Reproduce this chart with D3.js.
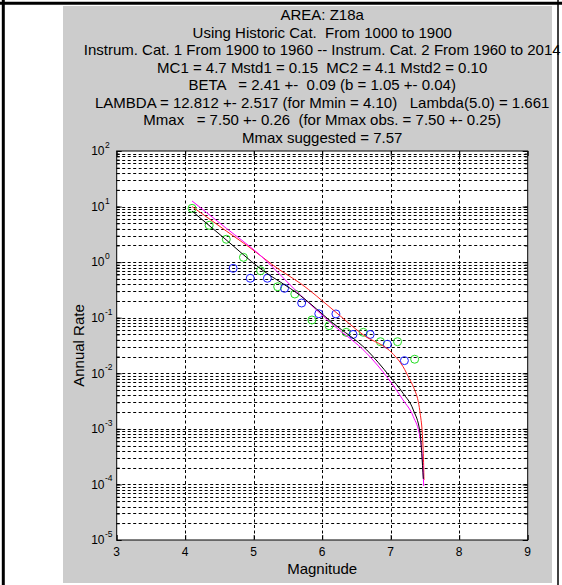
<!DOCTYPE html>
<html><head><meta charset="utf-8">
<script src="https://cdn.jsdelivr.net/npm/d3@7"></script>
<style>
body{margin:0;background:#fff;}
svg{display:block;font-family:Arial,"Liberation Sans",sans-serif;}
text{white-space:pre;}
</style>
</head><body>
<svg id="c" width="562" height="585"></svg>
<script>
// ---- data ----
const titleLines = [
  "AREA: Z18a",
  "Using Historic Cat.  From 1000 to 1900",
  "Instrum. Cat. 1 From 1900 to 1960 -- Instrum. Cat. 2 From 1960 to 2014",
  "MC1 = 4.7 Mstd1 = 0.15  MC2 = 4.1 Mstd2 = 0.10",
  "BETA   = 2.41 +-  0.09 (b = 1.05 +- 0.04)",
  "LAMBDA = 12.812 +- 2.517 (for Mmin = 4.10)   Lambda(5.0) = 1.661",
  "Mmax   = 7.50 +- 0.26  (for Mmax obs. = 7.50 +- 0.25)",
  "Mmax suggested = 7.57"
];
const xLabel = "Magnitude";
const yLabel = "Annual Rate";
const xTicks = [3, 4, 5, 6, 7, 8, 9];
const yExponents = [-5, -4, -3, -2, -1, 0, 1, 2];

const greenM    = [4.10, 4.35, 4.60, 4.85, 5.10, 5.35, 5.60, 5.85, 6.10, 6.35, 6.60, 6.85, 7.10, 7.35];
const greenRate = [9.3, 4.6, 2.58, 1.22, 0.70, 0.361, 0.267, 0.091, 0.072, 0.0546, 0.0546, 0.037, 0.037, 0.0179];

const blueM    = [4.70, 4.95, 5.20, 5.45, 5.70, 5.95, 6.20, 6.45, 6.70, 6.95, 7.20];
const blueRate = [0.774, 0.513, 0.513, 0.338, 0.184, 0.118, 0.117, 0.050, 0.050, 0.0333, 0.0169];

const blackM    = [4.10, 4.58, 5.10, 5.68, 6.16, 6.65, 6.99, 7.18, 7.33, 7.43, 7.453, 7.476];
const blackRate = [8.3, 2.63, 0.76, 0.251, 0.0794, 0.0263, 0.0087, 0.00437, 0.00219, 0.00083, 0.000363, 0.000126];

const magentaM    = [4.10, 4.60, 5.09, 5.68, 6.16, 6.65, 6.96, 7.18, 7.33, 7.43, 7.467, 7.482];
const magentaRate = [12.6, 4.07, 1.35, 0.257, 0.0741, 0.0229, 0.00813, 0.00331, 0.00166, 0.000676, 0.00024, 0.0000933];

const redM    = [4.10, 4.60, 4.90, 5.38, 5.68, 6.16, 6.60, 7.04, 7.18, 7.28, 7.33, 7.43, 7.467, 7.476, 7.486];
const redRate = [10.0, 3.63, 2.0, 0.724, 0.417, 0.138, 0.049, 0.0219, 0.0132, 0.00759, 0.00575, 0.0019, 0.00063, 0.00036, 0.00012];

// ---- drawing ----
const svg = d3.select("#c");
const L = 116.7, R = 527.7, T = 151, B = 540;

// outer frame
svg.append("rect").attr("x", 0).attr("y", 0).attr("width", 562).attr("height", 585).attr("fill", "#fff");
svg.append("rect").attr("x", 63).attr("y", 6).attr("width", 489).attr("height", 577).attr("fill", "#cccccc");
svg.append("line").attr("x1", 0).attr("x2", 562).attr("y1", 3.2).attr("y2", 3.2).attr("stroke", "#000").attr("stroke-width", 3);
svg.append("line").attr("x1", 3.3).attr("x2", 3.3).attr("y1", 0).attr("y2", 585).attr("stroke", "#000").attr("stroke-width", 3);
svg.append("line").attr("x1", 558).attr("x2", 558).attr("y1", 0).attr("y2", 585).attr("stroke", "#000").attr("stroke-width", 1.5);

const x = d3.scaleLinear().domain([3, 9]).range([L, R]);
const y = d3.scaleLog().domain([1e-5, 1e2]).range([B, T]);

svg.append("rect").attr("x", L).attr("y", T).attr("width", R - L).attr("height", B - T).attr("fill", "#fff");

// grid
const g = svg.append("g");
const minorVals = [];
yExponents.slice(0, -1).forEach(e => { for (let k = 1; k <= 9; k++) minorVals.push(k * Math.pow(10, e)); });
g.selectAll("line.hg").data(minorVals.filter(v => v > 1e-5)).enter().append("line")
  .attr("x1", L).attr("x2", R).attr("y1", d => Math.round(y(d)) + 0.5).attr("y2", d => Math.round(y(d)) + 0.5)
  .attr("stroke", "#000").attr("stroke-width", 1).attr("stroke-dasharray", "3,2.5");
g.selectAll("line.vg").data(xTicks.slice(1, -1)).enter().append("line")
  .attr("y1", T).attr("y2", B).attr("x1", d => Math.round(x(d)) + 0.5).attr("x2", d => Math.round(x(d)) + 0.5)
  .attr("stroke", "#000").attr("stroke-width", 1).attr("stroke-dasharray", "3,2.5");

// axes with ticks (inward)
const axB = d3.axisBottom(x).tickValues(xTicks).tickSize(-5).tickFormat("");
const axT = d3.axisTop(x).tickValues(xTicks).tickSize(-5).tickFormat("");
const axLmaj = d3.axisLeft(y).tickValues(yExponents.map(e => Math.pow(10, e))).tickSize(-5).tickFormat("");
const axRmaj = d3.axisRight(y).tickValues(yExponents.map(e => Math.pow(10, e))).tickSize(-5).tickFormat("");
const axLmin = d3.axisLeft(y).tickValues(minorVals).tickSize(-3).tickFormat("");
const axRmin = d3.axisRight(y).tickValues(minorVals).tickSize(-3).tickFormat("");
[[axB, `translate(0,${B})`], [axT, `translate(0,${T})`], [axLmaj, `translate(${L},0)`], [axRmaj, `translate(${R},0)`],
 [axLmin, `translate(${L},0)`], [axRmin, `translate(${R},0)`]].forEach(([a, t]) => {
  const ga = svg.append("g").attr("transform", t).call(a);
  ga.select(".domain").remove();
  ga.selectAll("line").attr("stroke", "#000");
});
svg.append("rect").attr("x", L).attr("y", T).attr("width", R - L).attr("height", B - T)
  .attr("fill", "none").attr("stroke", "#000").attr("stroke-width", 1);

// tick labels
svg.selectAll("text.xt").data(xTicks).enter().append("text")
  .attr("x", d => x(d)).attr("y", 556).attr("text-anchor", "middle")
  .attr("font-size", 12).attr("fill", "#000").text(d => d);
const yl = svg.selectAll("g.yt").data(yExponents).enter().append("g")
  .attr("transform", d => `translate(0,${y(Math.pow(10, d))})`);
yl.append("text").attr("x", 104.5).attr("y", 4.3).attr("text-anchor", "end").attr("font-size", 12).attr("fill", "#000").text("10");
yl.append("text").attr("x", 105).attr("y", -3).attr("text-anchor", "start").attr("font-size", 8.5).attr("fill", "#000").text(d => d);

// axis labels
svg.append("text").attr("x", (L + R) / 2).attr("y", 574).attr("text-anchor", "middle").attr("font-size", 15).attr("fill", "#000").text(xLabel);
svg.append("text").attr("transform", `translate(84,${(T + B) / 2}) rotate(-90)`).attr("text-anchor", "middle")
  .attr("font-size", 15).attr("fill", "#000").text(yLabel);

// title
svg.selectAll("text.tt").data(titleLines).enter().append("text")
  .attr("x", (L + R) / 2).attr("y", (d, i) => 20 + i * 17.5).attr("text-anchor", "middle")
  .attr("font-size", 15).attr("fill", "#000").text(d => d);

// curves
const line = d3.line().x(d => x(d[0])).y(d => y(d[1])).curve(d3.curveMonotoneX);
const plot = svg.append("g");
function curve(ms, rs, col) {
  plot.append("path").datum(ms.map((m, i) => [m, rs[i]])).attr("d", line)
    .attr("fill", "none").attr("stroke", col).attr("stroke-width", 1);
}
function circles(ms, rs, col) {
  plot.selectAll(null).data(ms.map((m, i) => [m, rs[i]])).enter().append("circle")
    .attr("cx", d => x(d[0])).attr("cy", d => y(d[1])).attr("r", 4)
    .attr("fill", "none").attr("stroke", col).attr("stroke-width", 1);
}
circles(greenM, greenRate, "#22dd22");
circles(blueM, blueRate, "#1a1aff");
curve(redM, redRate, "#ff2020");
curve(magentaM, magentaRate, "#ff00ff");
curve(blackM, blackRate, "#000000");
</script>
</body></html>
